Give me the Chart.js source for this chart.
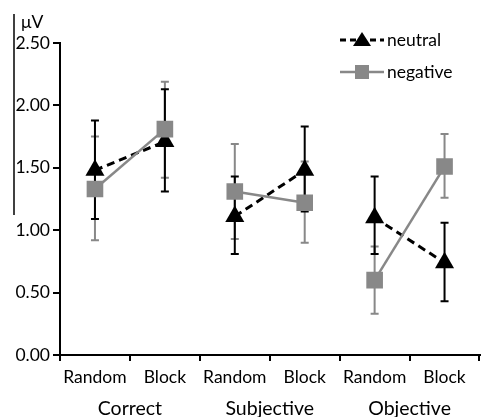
<!DOCTYPE html>
<html>
<head>
<meta charset="utf-8">
<script src="https://cdn.jsdelivr.net/npm/chart.js@4"></script>
<style>
  html, body { margin: 0; padding: 0; background: #fff; overflow: hidden; }
  #wrap { width: 492px; height: 417px; }
</style>
</head>
<body>
<div id="wrap"><canvas id="erpChart" width="492" height="417"></canvas></div>
<script>
const conditions = ['Random', 'Block', 'Random', 'Block', 'Random', 'Block'];
const groups = ['Correct', 'Subjective', 'Objective'];

const neutral = [1.48, 1.71, 1.11, 1.48, 1.10, 0.74];
const neutralHigh = [1.88, 2.13, 1.43, 1.83, 1.43, 1.06];
const neutralLow = [1.09, 1.31, 0.81, 1.15, 0.81, 0.43];

const negative = [1.33, 1.81, 1.31, 1.22, 0.60, 1.51];
const negativeHigh = [1.75, 2.19, 1.69, 1.55, 0.87, 1.77];
const negativeLow = [0.92, 1.42, 0.93, 0.90, 0.33, 1.26];

const yTicks = [0, 0.5, 1, 1.5, 2, 2.5];

const BLACK = '#000';
const GREY = '#888888';
const FONT = 'Lato, sans-serif';

// draws the error bars behind the lines
const errorBars = {
  id: 'errorBars',
  beforeDatasetsDraw(chart) {
    const c = chart.ctx;
    const x = chart.scales.x, y = chart.scales.y;
    const sets = [
      { hi: negativeHigh, lo: negativeLow, color: GREY },
      { hi: neutralHigh, lo: neutralLow, color: BLACK }
    ];
    c.save();
    c.lineWidth = 2;
    sets.forEach(s => {
      c.strokeStyle = s.color;
      s.hi.forEach((h, i) => {
        const px = x.getPixelForValue(i);
        const top = y.getPixelForValue(h);
        const bot = y.getPixelForValue(s.lo[i]);
        c.beginPath();
        c.moveTo(px, top); c.lineTo(px, bot);
        c.moveTo(px - 4, top); c.lineTo(px + 4, top);
        c.moveTo(px - 4, bot); c.lineTo(px + 4, bot);
        c.stroke();
      });
    });
    c.restore();
  }
};

// unit label, legend and the stray crop line at the left edge
const extras = {
  id: 'extras',
  afterDraw(chart) {
    const c = chart.ctx;
    c.save();
    c.fillStyle = BLACK;
    c.font = '17.5px ' + FONT;
    c.textBaseline = 'middle';
    c.textAlign = 'left';
    c.fillText('\u03bcV', 21, 22);

    c.strokeStyle = BLACK;
    c.lineWidth = 1.5;
    c.beginPath();
    c.moveTo(14, 14); c.lineTo(14, 215);
    c.stroke();

    // legend
    const lx1 = 340, lx2 = 384, cx = 362;
    c.lineWidth = 3;
    c.setLineDash([6, 4]);
    c.beginPath(); c.moveTo(lx1, 40); c.lineTo(lx2, 40); c.stroke();
    c.setLineDash([]);
    c.beginPath();
    c.moveTo(cx, 32); c.lineTo(cx + 9, 46); c.lineTo(cx - 9, 46); c.closePath();
    c.fill();
    c.fillText('neutral', 387, 40);

    c.strokeStyle = GREY;
    c.fillStyle = GREY;
    c.lineWidth = 2.5;
    c.beginPath(); c.moveTo(lx1, 72); c.lineTo(lx2, 72); c.stroke();
    c.fillRect(cx - 7, 65, 14, 14);
    c.fillStyle = BLACK;
    c.fillText('negative', 387, 72);
    c.restore();
  }
};

new Chart(document.getElementById('erpChart'), {
  type: 'line',
  data: {
    labels: conditions,
    datasets: [
      {
        label: 'negative',
        data: negative,
        borderColor: GREY,
        backgroundColor: GREY,
        borderWidth: 2.5,
        pointStyle: 'rect',
        pointRadius: 10,
        pointHoverRadius: 10,
        segment: { borderColor: ctx => (ctx.p0DataIndex % 2 === 0 ? GREY : 'transparent') }
      },
      {
        label: 'neutral',
        data: neutral,
        borderColor: BLACK,
        backgroundColor: BLACK,
        borderWidth: 3,
        borderDash: [8, 5],
        pointStyle: 'triangle',
        pointRadius: 11,
        pointHoverRadius: 11,
        pointBorderWidth: 0,
        segment: { borderColor: ctx => (ctx.p0DataIndex % 2 === 0 ? BLACK : 'transparent') }
      }
    ]
  },
  options: {
    responsive: false,
    animation: false,
    layout: { padding: { top: 43, right: 1, left: 0, bottom: 0 } },
    plugins: { legend: { display: false }, tooltip: { enabled: false } },
    scales: {
      x: {
        type: 'category',
        offset: true,
        grid: { offset: true, drawOnChartArea: false, color: BLACK, lineWidth: 2, tickLength: 6 },
        border: { color: BLACK, width: 2 },
        ticks: { color: BLACK, font: { family: FONT, size: 17.5 }, padding: 6, maxRotation: 0 },
        afterFit: s => { s.height = 34; }
      },
      x2: {
        type: 'category',
        labels: groups,
        position: 'bottom',
        offset: true,
        grid: { display: false, drawTicks: false },
        border: { display: false },
        ticks: { color: BLACK, font: { family: FONT, size: 19.5 }, padding: 8, maxRotation: 0 },
        afterFit: s => { s.height = 28; }
      },
      y: {
        min: 0,
        max: 2.5,
        afterBuildTicks: s => { s.ticks = yTicks.map(v => ({ value: v })); },
        grid: { drawOnChartArea: false, color: BLACK, lineWidth: 2, tickLength: 7 },
        border: { color: BLACK, width: 2 },
        ticks: { color: BLACK, font: { family: FONT, size: 17.5 }, padding: 3, callback: v => v.toFixed(2) },
        afterFit: s => { s.width = 60; }
      }
    }
  },
  plugins: [errorBars, extras]
});
</script>
</body>
</html>
